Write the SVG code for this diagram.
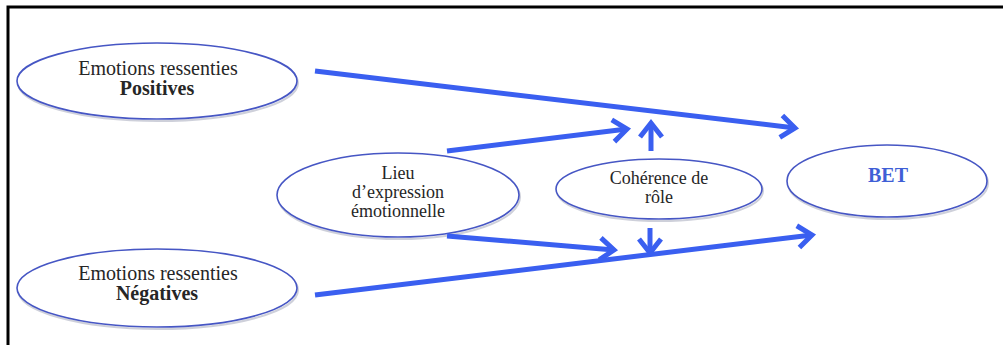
<svg xmlns="http://www.w3.org/2000/svg" width="1003" height="345" viewBox="0 0 1003 345">
  <defs>
    <style>
      .node ellipse.shape { fill: #ffffff; stroke: #4656c4; stroke-width: 1.6; }
      .node ellipse.shade { fill: none; stroke: #b9bccb; stroke-width: 2; opacity: 0.7; }
      .lbl { font-family: "Liberation Serif", "Times New Roman", serif; font-size: 20px; fill: #262626; text-anchor: middle; }
      .sm { font-size: 18px; }
      .bold { font-weight: bold; }
      .bet { font-weight: bold; fill: #3f5fd6; }
      .link { fill: none; stroke: #3a5ff0; stroke-width: 5; stroke-linecap: butt; marker-end: url(#chev); }
    </style>
    <marker id="chev" markerUnits="userSpaceOnUse" markerWidth="30" markerHeight="30" refX="18" refY="12" orient="auto" overflow="visible">
      <path d="M4,1 L18,12 L4,23" fill="none" stroke="#3a5ff0" stroke-width="5" stroke-linejoin="miter"/>
    </marker>
  </defs>

  <rect width="1003" height="345" fill="#ffffff"/>
  <!-- frame edges -->
  <path d="M8,345 V7 H1003" fill="none" stroke="#000000" stroke-width="3"/>

  <g id="node-positives" class="node">
    <ellipse class="shade" cx="158" cy="83" rx="140" ry="38"/>
    <ellipse class="shape" cx="157" cy="81" rx="140" ry="38"/>
    <text class="lbl" x="158" y="75">Emotions ressenties</text>
    <text class="lbl bold" x="157" y="95">Positives</text>
  </g>

  <g id="node-negatives" class="node">
    <ellipse class="shade" cx="158" cy="290" rx="140" ry="39"/>
    <ellipse class="shape" cx="157" cy="288" rx="140" ry="39"/>
    <text class="lbl" x="158" y="280">Emotions ressenties</text>
    <text class="lbl bold" x="157" y="300">Négatives</text>
  </g>

  <g id="node-lieu" class="node">
    <ellipse class="shade" cx="399" cy="197" rx="121" ry="42"/>
    <ellipse class="shape" cx="398" cy="195" rx="121" ry="42"/>
    <text class="lbl sm" x="398" y="179">Lieu</text>
    <text class="lbl sm" x="398" y="198">d’expression</text>
    <text class="lbl sm" x="398" y="217">émotionnelle</text>
  </g>

  <g id="node-coherence" class="node">
    <ellipse class="shade" cx="660" cy="191" rx="103" ry="30"/>
    <ellipse class="shape" cx="659" cy="189" rx="103" ry="30"/>
    <text class="lbl sm" x="659" y="184">Cohérence de</text>
    <text class="lbl sm" x="659" y="203">rôle</text>
  </g>

  <g id="node-bet" class="node">
    <ellipse class="shade" cx="888" cy="183" rx="100" ry="36"/>
    <ellipse class="shape" cx="887" cy="181" rx="100" ry="36"/>
    <text class="lbl bet" x="888" y="182">BET</text>
  </g>

  <g id="connectors">
    <path class="link" d="M315,71 L795,128"/>
    <path class="link" d="M447,151 L627,129"/>
    <path class="link" d="M651,151 L651,123"/>
    <path class="link" d="M447,236 L614,250"/>
    <path class="link" d="M650,228 L650,253"/>
    <path class="link" d="M315,295 L812,235"/>
  </g>
</svg>
